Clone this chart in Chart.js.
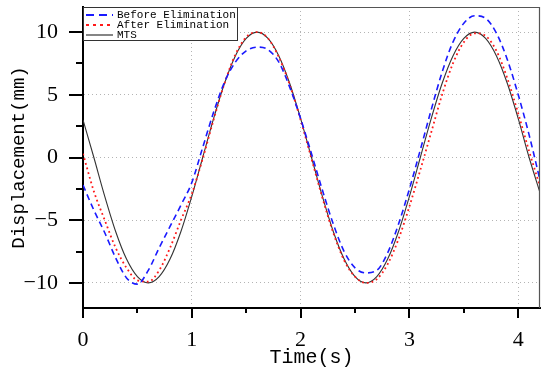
<!DOCTYPE html>
<html>
<head>
<meta charset="utf-8">
<script src="https://cdn.jsdelivr.net/npm/chart.js@4/dist/chart.umd.min.js"></script>
<style>
html,body{margin:0;padding:0;background:#fff;}
#wrap{width:550px;height:374px;}
</style>
</head>
<body>
<div id="wrap"><canvas id="c" width="550" height="374"></canvas></div>
<script>
const time = [0,0.1,0.2,0.3,0.4,0.5,0.6,0.7,0.8,0.9,1.0,1.1,1.2,1.3,1.4,1.5,1.6,1.7,1.8,1.9,2.0,2.1,2.2,2.3,2.4,2.5,2.6,2.7,2.8,2.9,3.0,3.1,3.2,3.3,3.4,3.5,3.6,3.7,3.8,3.9,4.0,4.1,4.2];
const beforeElimination = [-2.2,-4.2,-6.0,-8.0,-9.6,-10.1,-9.0,-7.2,-5.5,-3.8,-2.0,0.8,3.6,6.0,7.6,8.5,8.8,8.6,7.6,5.6,3.1,0.3,-2.6,-5.3,-7.5,-8.8,-9.2,-9.0,-7.6,-5.3,-2.5,0.6,3.8,6.8,9.2,10.7,11.3,11.1,9.9,7.8,5.0,1.8,-1.8];
const afterElimination = [0.3,-2.7,-5.0,-7.2,-8.8,-9.8,-9.9,-9.0,-7.2,-5.0,-2.9,-0.1,3.0,5.9,8.2,9.6,10.0,9.5,8.0,5.8,3.0,-0.1,-3.2,-6.0,-8.2,-9.5,-10.0,-9.7,-8.5,-6.5,-3.9,-1.0,2.0,5.0,7.5,9.2,9.9,9.7,8.5,6.3,3.5,0.5,-2.3];
const mts = [3.0,0.0,-3.1,-5.9,-8.1,-9.5,-10.0,-9.5,-8.1,-5.9,-3.1,0.0,3.1,5.9,8.1,9.5,10.0,9.5,8.1,5.9,3.1,0.0,-3.1,-5.9,-8.1,-9.5,-10.0,-9.5,-8.1,-5.9,-3.1,0.0,3.1,5.9,8.1,9.5,10.0,9.5,8.1,5.9,3.1,0.0,-2.8];
const seriesLabels = ['Before Elimination','After Elimination','MTS'];
const xTicks = [0,1,2,3,4];
const yTicks = [-10,-5,0,5,10];

const pts = arr => arr.map((v,i)=>({x:time[i], y:v}));

const frameAndTicks = {
  id:'frameAndTicks',
  afterDraw(chart){
    const ctx = chart.ctx, a = chart.chartArea;
    const xs = chart.scales.x, ys = chart.scales.y;
    ctx.save();
    // top & right frame
    ctx.strokeStyle = '#555'; ctx.lineWidth = 1.2;
    ctx.beginPath();
    ctx.moveTo(a.left, a.top+0.5); ctx.lineTo(a.right-0.5, a.top+0.5); ctx.lineTo(a.right-0.5, a.bottom);
    ctx.stroke();
    // ticks
    ctx.strokeStyle = '#000'; ctx.lineWidth = 2;
    ctx.beginPath();
    for (let v=0; v<=4.2+1e-9; v+=0.5){
      const px = Math.round(xs.getPixelForValue(v));
      const major = Math.abs(v-Math.round(v))<1e-6;
      ctx.moveTo(px, a.bottom); ctx.lineTo(px, a.bottom + (major?10:5));
    }
    for (let v=-10; v<=12+1e-9; v+=2.5){
      const py = Math.round(ys.getPixelForValue(v));
      const major = Math.abs(v/5-Math.round(v/5))<1e-6;
      ctx.moveTo(a.left, py); ctx.lineTo(a.left - (major?14:7), py);
    }
    ctx.stroke();
    // legend
    const lx = a.left, ly = a.top, lw = 154, lh = 33;
    ctx.fillStyle = '#fff';
    ctx.fillRect(lx, ly, lw, lh);
    ctx.strokeStyle = '#333'; ctx.lineWidth = 1;
    ctx.strokeRect(lx+0.5, ly+0.5, lw, lh);
    ctx.font = '11px "Liberation Mono", monospace';
    ctx.textBaseline = 'middle'; ctx.textAlign = 'left';
    const legDash = [[8,5],[3,4],[]];
    chart.data.datasets.forEach((ds,i)=>{
      const y = ly + 8 + i*10;
      ctx.strokeStyle = ds.borderColor; ctx.lineWidth = i===2?1.2:2;
      ctx.setLineDash(legDash[i]);
      ctx.beginPath(); ctx.moveTo(lx+3, y); ctx.lineTo(lx+30, y); ctx.stroke();
      ctx.setLineDash([]);
      ctx.fillStyle = '#000';
      ctx.fillText(ds.label, lx+34, y+0.5);
    });
    ctx.restore();
  }
};

new Chart(document.getElementById('c'), {
  type:'line',
  data:{
    datasets:[
      {label:seriesLabels[0], data:pts(beforeElimination), borderColor:'#1a1aff', borderWidth:1.6, borderDash:[6,4], pointRadius:0, cubicInterpolationMode:'monotone', fill:false},
      {label:seriesLabels[1], data:pts(afterElimination), borderColor:'#ff1a1a', borderWidth:1.8, borderDash:[1.8,3], pointRadius:0, cubicInterpolationMode:'monotone', fill:false},
      {label:seriesLabels[2], data:pts(mts), borderColor:'#333333', borderWidth:1.1, pointRadius:0, cubicInterpolationMode:'monotone', fill:false}
    ]
  },
  options:{
    responsive:false, animation:false, devicePixelRatio:1,
    layout:{padding:{top:7,right:10,left:0,bottom:0}},
    plugins:{legend:{display:false}, tooltip:{enabled:false}},
    scales:{
      x:{
        type:'linear', min:0, max:4.2,
        afterBuildTicks: s => { s.ticks = xTicks.map(v=>({value:v})); },
        afterFit: s => { s.height = 66; s.paddingLeft = 0; s.paddingRight = 0; },
        ticks:{color:'#000', padding:19, font:{family:'"Liberation Serif", serif', size:22}, maxRotation:0},
        grid:{color:'#b4b4b4', lineWidth:1, drawTicks:false},
        border:{display:true, color:'#000', width:2, dash:[1,3]},
        title:{display:true, text:'Time(s)', color:'#000', font:{family:'"Liberation Mono", monospace', size:20}, padding:{top:0,bottom:4}}
      },
      y:{
        type:'linear', min:-12, max:12,
        afterBuildTicks: s => { s.ticks = yTicks.map(v=>({value:v})); },
        afterFit: s => { s.width = 83; s.paddingTop = 0; s.paddingBottom = 0; },
        ticks:{color:'#000', padding:25, font:{family:'"Liberation Serif", serif', size:22},
          callback: v => v < 0 ? '\u2212' + Math.abs(v) : String(v)},
        grid:{color:'#b4b4b4', lineWidth:1, drawTicks:false},
        border:{display:true, color:'#000', width:2, dash:[1,3]},
        title:{display:true, text:'Displacement(mm)', color:'#000', font:{family:'"Liberation Mono", monospace', size:19}, padding:{top:8,bottom:0}}
      }
    }
  },
  plugins:[frameAndTicks]
});
</script>
</body>
</html>
